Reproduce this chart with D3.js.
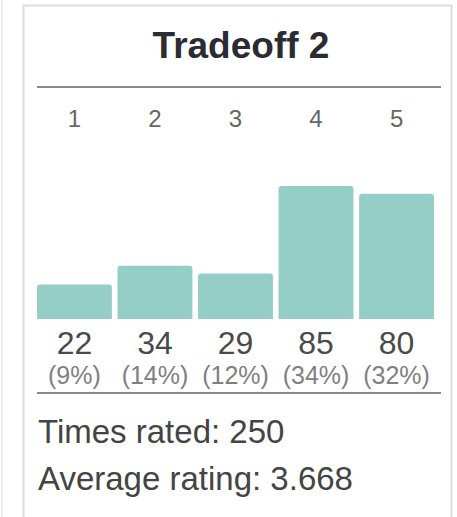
<!DOCTYPE html>
<html>
<head>
<meta charset="utf-8">
<script src="https://cdn.jsdelivr.net/npm/d3@7"></script>
<style>
  html, body { margin: 0; padding: 0; background: #fff; }
  svg { display: block; font-family: "Liberation Sans", Arial, sans-serif; }
</style>
</head>
<body>
<script>
var title = "Tradeoff 2";
var ratings = ["1", "2", "3", "4", "5"];
var counts = [22, 34, 29, 85, 80];

var w = 457;
var h = 517;

var total = d3.sum(counts);
var avg = d3.sum(counts, (d, i) => d * (+ratings[i])) / total;

var data = ratings.map((r, i) => ({key: r, value: counts[i]}));

var x = d3.scaleBand()
  .domain(ratings)
  .range([37, 434])
  .paddingInner(0.07);

var y = d3.scaleLinear()
  .domain([0, d3.max(counts)])
  .range([319, 186]);

var svg = d3.select("body").append("svg")
  .attr("width", w)
  .attr("height", h);

// faint edge of neighbouring card
svg.append("line")
  .attr("x1", 2).attr("x2", 2).attr("y1", 0).attr("y2", h)
  .attr("stroke", "#eee").attr("stroke-width", 2);

// card
svg.append("rect")
  .attr("x", 23.5).attr("y", 5.5)
  .attr("width", 428).attr("height", 520)
  .attr("fill", "#fff")
  .attr("stroke", "#dcdcdc")
  .attr("stroke-width", 2);

svg.append("text")
  .attr("x", 241)
  .attr("y", 58)
  .attr("text-anchor", "middle")
  .attr("font-size", 37)
  .attr("font-weight", "bold")
  .attr("fill", "#2b2b33")
  .text(title);

// rules
[87, 393].forEach((yy) => {
  svg.append("line")
    .attr("x1", 37).attr("x2", 441)
    .attr("y1", yy).attr("y2", yy)
    .attr("stroke", "#8a8a8a")
    .attr("stroke-width", 2);
});

var chart = svg.append("g");

chart.selectAll(".cat")
  .data(data)
  .enter()
    .append("text")
    .classed("cat", true)
    .attr("x", (d) => x(d.key) + x.bandwidth() / 2)
    .attr("y", 127)
    .attr("text-anchor", "middle")
    .attr("font-size", 24)
    .attr("fill", "#666")
    .text((d) => d.key);

// bars with slightly rounded tops
chart.selectAll(".bar")
  .data(data)
  .enter()
    .append("path")
    .classed("bar", true)
    .attr("fill", "#95cec7")
    .attr("d", (d) => {
      var x0 = x(d.key), x1 = x0 + x.bandwidth();
      var y0 = y(d.value), yb = y(0), r = 3;
      return "M" + x0 + "," + yb +
        "V" + (y0 + r) +
        "Q" + x0 + "," + y0 + " " + (x0 + r) + "," + y0 +
        "H" + (x1 - r) +
        "Q" + x1 + "," + y0 + " " + x1 + "," + (y0 + r) +
        "V" + yb + "Z";
    });

chart.selectAll(".count")
  .data(data)
  .enter()
    .append("text")
    .classed("count", true)
    .attr("x", (d) => x(d.key) + x.bandwidth() / 2)
    .attr("y", 354)
    .attr("text-anchor", "middle")
    .attr("font-size", 32)
    .attr("fill", "#4a4a4a")
    .text((d) => d.value);

chart.selectAll(".pct")
  .data(data)
  .enter()
    .append("text")
    .classed("pct", true)
    .attr("x", (d) => x(d.key) + x.bandwidth() / 2)
    .attr("y", 384)
    .attr("text-anchor", "middle")
    .attr("font-size", 25)
    .attr("fill", "#808080")
    .text((d) => "(" + Math.round(d.value / total * 100) + "%)");

svg.append("text")
  .attr("x", 38)
  .attr("y", 443)
  .attr("font-size", 33)
  .attr("fill", "#444")
  .text("Times rated: " + total);

svg.append("text")
  .attr("x", 38)
  .attr("y", 490)
  .attr("font-size", 33)
  .attr("fill", "#444")
  .text("Average rating: " + avg.toFixed(3));
</script>
</body>
</html>
